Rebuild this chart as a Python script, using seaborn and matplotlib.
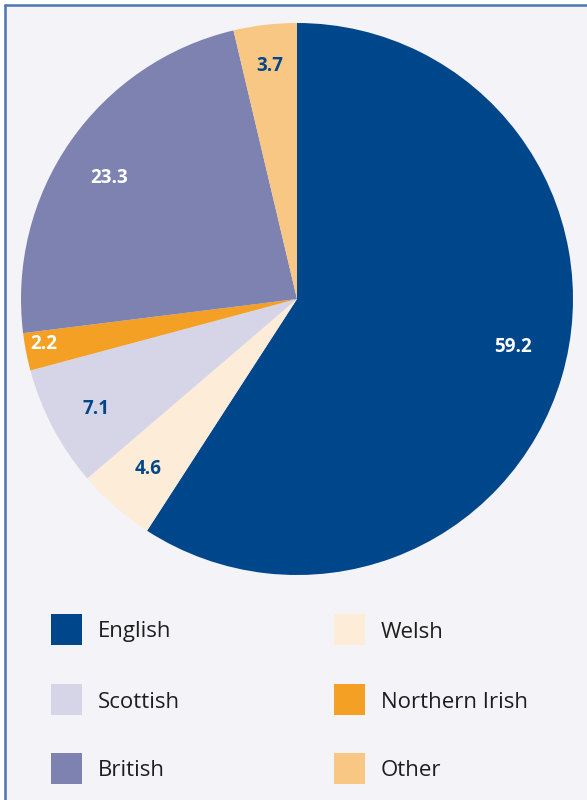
import numpy as np
import matplotlib.pyplot as plt
import seaborn as sns
from matplotlib.patches import Rectangle
from matplotlib.lines import Line2D

categories = ['English', 'Welsh', 'Scottish', 'Northern Irish', 'British', 'Other']
values = [59.2, 4.6, 7.1, 2.2, 23.3, 3.7]
value_labels = ['59.2', '4.6', '7.1', '2.2', '23.3', '3.7']
colors = ['#00468b', '#fdecd8', '#d6d5e7', '#f4a024', '#7d82b1', '#f9c784']
label_colors = ['white', '#00468b', '#00468b', 'white', 'white', '#00468b']
label_radius = [0.80, 0.82, 0.83, 0.93, 0.81, 0.85]
label_shift = [4, 0, 1, -1, 2, 0]  # degrees, nudges label off the wedge middle
legend_order = ['English', 'Scottish', 'British', 'Welsh', 'Northern Irish', 'Other']

sns.set_theme(style='white')
plt.rcParams['font.family'] = ['Open Sans', 'DejaVu Sans']

W, H = 587, 800
bg = '#f3f3f8'
border = '#4a77ae'
fig = plt.figure(figsize=(W / 100, H / 100), dpi=100, facecolor='white')
fig.add_artist(Rectangle((5 / W, 0), 1 - 5 / W, 1 - 5 / H, transform=fig.transFigure,
                         facecolor=bg, edgecolor='none', zorder=-5))
fig.add_artist(Line2D([5 / W, 5 / W], [0, 1 - 5 / H], color=border, lw=1.8, zorder=-4))
fig.add_artist(Line2D([5 / W, 1], [1 - 5 / H, 1 - 5 / H], color=border, lw=1.8, zorder=-4))

# pie
cx, cy, r = 297, 299, 276
ax = fig.add_axes([(cx - r) / W, (H - cy - r) / H, 2 * r / W, 2 * r / H], zorder=1)
wedges, _ = ax.pie(values, colors=colors, startangle=90, counterclock=False,
                   radius=1, wedgeprops=dict(linewidth=0))
ax.set_xlim(-1, 1)
ax.set_ylim(-1, 1)
ax.axis('off')

for w, txt, col, rf, sh in zip(wedges, value_labels, label_colors, label_radius, label_shift):
    ang = np.deg2rad((w.theta1 + w.theta2) / 2 + sh)
    ax.text(rf * np.cos(ang), rf * np.sin(ang), txt, color=col, fontsize=13.5,
            fontweight='bold', ha='center', va='center')

# legend
color_of = dict(zip(categories, colors))
col_x = [51, 334]
row_y = [629.5, 699.5, 768.5]
sq = 31
for i, name in enumerate(legend_order):
    x = col_x[i // 3]
    y = row_y[i % 3]
    fig.add_artist(Rectangle((x / W, 1 - (y + sq / 2) / H), sq / W, sq / H,
                             transform=fig.transFigure, facecolor=color_of[name],
                             edgecolor='none'))
    fig.text((x + sq + 16) / W, 1 - y / H, name, fontsize=16, color='#1e1e1e',
             ha='left', va='center_baseline')

fig.savefig('out.png', dpi=100, facecolor=fig.get_facecolor())
